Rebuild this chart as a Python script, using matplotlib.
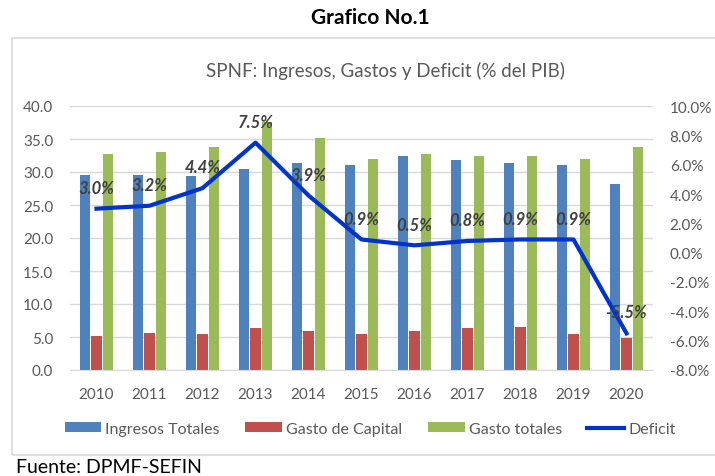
import matplotlib
matplotlib.use('Agg')
import matplotlib.pyplot as plt
import numpy as np
from matplotlib.patches import Rectangle

plt.rcParams['font.family'] = ['Lato', 'DejaVu Sans']

# datos (% del PIB)
years = ['2010', '2011', '2012', '2013', '2014', '2015', '2016', '2017', '2018', '2019', '2020']
ingresos = [29.6, 29.6, 29.4, 30.5, 31.4, 31.1, 32.4, 31.8, 31.3, 31.1, 28.2]
gasto_capital = [5.2, 5.65, 5.45, 6.3, 5.85, 5.45, 5.85, 6.3, 6.5, 5.45, 4.85]
gasto_totales = [32.8, 33.1, 33.8, 37.6, 35.1, 32.0, 32.8, 32.4, 32.4, 32.0, 33.8]
deficit = [3.0, 3.2, 4.4, 7.5, 3.9, 0.9, 0.5, 0.8, 0.9, 0.9, -5.5]

W, H = 715, 477
fig = plt.figure(figsize=(W / 100, H / 100), dpi=100)
fig.patch.set_facecolor('white')

def px(x0, y0, x1, y1):
    return [x0 / W, 1 - y1 / H, (x1 - x0) / W, (y1 - y0) / H]

# marco del grafico
fig.patches.append(Rectangle((12 / W, 1 - 456 / H), 760 / W, 417 / H, transform=fig.transFigure,
                             fill=False, edgecolor='#D9D9D9', linewidth=1.2))

fig.text(370 / W, 1 - 18 / H, 'Grafico No.1', ha='center', va='center',
         fontsize=15, fontweight='bold', color='black')
fig.text(385 / W, 1 - 71 / H, 'SPNF: Ingresos, Gastos y Deficit (% del PIB)', ha='center', va='center',
         fontsize=13.5, color='#595959')
fig.text(16 / W, 1 - 468 / H, 'Fuente: DPMF-SEFIN', ha='left', va='center',
         fontsize=14, color='black')

ax = fig.add_axes(px(70, 107, 653, 371))
x = np.arange(len(years))
bw = 0.19
off = 0.225
gray = '#595959'

b1 = ax.bar(x - off, ingresos, bw, color='#4F81BD', label='Ingresos Totales', zorder=2)
b2 = ax.bar(x, gasto_capital, bw, color='#C0504D', label='Gasto de Capital', zorder=2)
b3 = ax.bar(x + off, gasto_totales, bw, color='#9BBB59', label='Gasto totales', zorder=2)

ax.set_xlim(-0.5, len(years) - 0.5)
ax.set_ylim(0, 40)
ax.set_yticks(np.arange(0, 41, 5))
ax.set_yticklabels([f'{v:.1f}' for v in np.arange(0, 41, 5)])
ax.set_xticks(x)
ax.set_xticklabels(years)
ax.yaxis.grid(True, color='#D9D9D9', linewidth=1, zorder=0)
ax.set_axisbelow(True)
for s in ['top', 'right', 'left']:
    ax.spines[s].set_visible(False)
ax.spines['bottom'].set_color('#D9D9D9')
ax.tick_params(axis='both', length=0, colors=gray, labelsize=11)
ax.tick_params(axis='x', pad=12)
ax.tick_params(axis='y', pad=12)

ax2 = ax.twinx()
ln, = ax2.plot(x, deficit, color='#0033CC', linewidth=3.0, label='Deficit', zorder=3)
ax2.set_ylim(-8, 10)
ax2.set_yticks(np.arange(-8, 11, 2))
ax2.set_yticklabels([f'{v:.1f}%' for v in np.arange(-8, 11, 2)])
for s in ax2.spines.values():
    s.set_visible(False)
ax2.tick_params(axis='y', length=0, colors=gray, labelsize=11, pad=12)

for i, v in enumerate(deficit):
    ax2.annotate(f'{v:.1f}%', (i, v), xytext=(0, 15), textcoords='offset points',
                 ha='center', va='center', fontsize=12, fontweight='bold', style='italic',
                 color='#404040', zorder=4)

fig.legend([b1, b2, b3, ln], ['Ingresos Totales', 'Gasto de Capital', 'Gasto totales', 'Deficit'],
           loc='center', bbox_to_anchor=(370 / W, 1 - 430 / H), ncol=4, frameon=False,
           fontsize=11.5, labelcolor=gray, handlelength=2.3, handletextpad=0.25,
           columnspacing=1.6, handleheight=0.6)

plt.savefig('out.png', dpi=100)
